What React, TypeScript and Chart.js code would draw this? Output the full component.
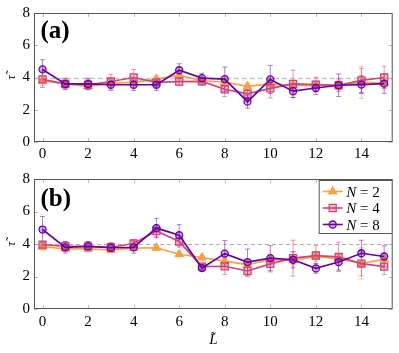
import React, { useEffect, useRef } from "react";
import { Chart, registerables } from "chart.js";

Chart.register(...registerables);

// ---------- data ----------
const L_VALUES = [0, 1, 2, 3, 4, 5, 6, 7, 8, 9, 10, 11, 12, 13, 14, 15];
const X_TICKS = [0, 2, 4, 6, 8, 10, 12, 14];
const Y_TICKS = [0, 2, 4, 6, 8];
const REFERENCE_LEVEL = 4;
const SERIES_N = ["2", "4", "8"];

// panel (a)
const A_N2 = [3.8, 3.6, 3.45, 3.65, 3.7, 3.9, 4.15, 3.8, 3.72, 3.45, 3.6, 3.52, 3.5, 3.52, 3.7, 3.65];
const A_N2_ERR = [0.3, 0.2, 0.2, 0.2, 0.2, 0.2, 0.3, 0.2, 0.25, 0.2, 0.3, 0.3, 0.3, 0.3, 1.0, 0.3];
const A_N4 = [3.88, 3.6, 3.55, 3.75, 4.0, 3.7, 3.75, 3.76, 3.27, 2.99, 3.33, 3.6, 3.56, 3.52, 3.82, 4.0];
const A_N4_ERR = [0.5, 0.3, 0.3, 0.45, 0.5, 0.3, 0.25, 0.25, 0.45, 0.35, 0.6, 0.85, 0.45, 0.4, 0.75, 0.7];
const A_N8 = [4.5, 3.6, 3.6, 3.55, 3.55, 3.55, 4.45, 3.96, 3.9, 2.5, 3.88, 3.15, 3.35, 3.52, 3.56, 3.62];
const A_N8_ERR = [0.6, 0.35, 0.35, 0.35, 0.35, 0.35, 0.4, 0.3, 0.75, 0.4, 0.87, 0.4, 0.4, 0.7, 0.55, 0.6];

// panel (b)
const B_N2 = [3.83, 3.7, 3.7, 3.63, 3.75, 3.77, 3.37, 3.17, 2.95, 2.73, 3.03, 2.99, 3.23, 3.09, 2.8, 3.05];
const B_N2_ERR = [0.2, 0.15, 0.15, 0.15, 0.15, 0.15, 0.15, 0.15, 0.2, 0.2, 0.3, 0.25, 0.3, 0.25, 0.96, 0.25];
const B_N4 = [3.96, 3.86, 3.85, 3.8, 4.03, 4.8, 4.15, 2.61, 2.63, 2.34, 2.78, 3.13, 3.29, 3.21, 2.79, 2.61];
const B_N4_ERR = [0.2, 0.3, 0.3, 0.25, 0.25, 0.35, 0.35, 0.2, 0.5, 0.35, 0.5, 1.1, 0.6, 0.9, 0.75, 0.5];
const B_N8 = [4.89, 3.79, 3.85, 3.77, 3.79, 4.98, 4.54, 2.52, 3.41, 2.89, 3.13, 3.03, 2.5, 2.89, 3.43, 3.23];
const B_N8_ERR = [0.8, 0.35, 0.3, 0.3, 0.35, 0.6, 0.65, 0.2, 0.8, 0.8, 0.77, 0.5, 0.3, 0.5, 0.8, 0.65];

// ---------- styles ----------
const FAMILY = '"Liberation Serif"';
const COLORS = ["#f9a03f", "#cc4778", "#6a00a8"];
const FILLS = ["#f9a03f", "rgba(204,71,120,0.35)", "rgba(106,0,168,0.3)"];
const ERR_COLORS = ["rgba(249,160,63,0.6)", "rgba(204,71,120,0.55)", "rgba(106,0,168,0.5)"];
const STYLES = ["triangle", "rect", "circle"];
const RADII = [4.5, 5, 3.5];

function drawMarker(ctx: CanvasRenderingContext2D, k: number, x: number, y: number) {
  ctx.save();
  ctx.fillStyle = FILLS[k];
  ctx.strokeStyle = COLORS[k];
  ctx.lineWidth = 1.3;
  ctx.beginPath();
  const r = RADII[k];
  if (STYLES[k] === "triangle") {
    ctx.moveTo(x, y - r);
    ctx.lineTo(x + r * 0.866, y + r * 0.5);
    ctx.lineTo(x - r * 0.866, y + r * 0.5);
    ctx.closePath();
  } else if (STYLES[k] === "rect") {
    const s = r * Math.SQRT1_2;
    ctx.rect(x - s, y - s, 2 * s, 2 * s);
  } else {
    ctx.arc(x, y, r, 0, Math.PI * 2);
  }
  ctx.fill();
  ctx.stroke();
  ctx.restore();
}

type PanelProps = {
  top: number;
  height: number;
  tag: string;
  tagDy: number;
  series: number[][];
  errors: number[][];
  padTop: number;
  xHeight: number;
  xPad: number;
  showLegend: boolean;
  showXTitle: boolean;
  dash: { color: string; width: number; pattern: number[] };
};

function Panel(props: PanelProps) {
  const ref = useRef<HTMLCanvasElement>(null);
  useEffect(() => {
    const canvas = ref.current!;
    const p = props;
    const decor = {
      id: "decor",
      beforeDatasetsDraw(c: any) {
        const { ctx, chartArea: a, scales } = c;
        const xs = scales.x;
        const ys = scales.y;
        ctx.save();
        const yr = Math.round(ys.getPixelForValue(REFERENCE_LEVEL)) + 0.5;
        ctx.strokeStyle = p.dash.color;
        ctx.lineWidth = p.dash.width;
        ctx.setLineDash(p.dash.pattern);
        ctx.beginPath();
        ctx.moveTo(a.left, yr);
        ctx.lineTo(a.right, yr);
        ctx.stroke();
        ctx.setLineDash([]);
        ctx.strokeStyle = "#aaa";
        ctx.lineWidth = 0.8;
        ctx.beginPath();
        X_TICKS.forEach((v) => {
          const x = Math.round(xs.getPixelForValue(v)) + 0.5;
          ctx.moveTo(x, a.top);
          ctx.lineTo(x, a.top + 4);
          ctx.moveTo(x, a.bottom);
          ctx.lineTo(x, a.bottom - 4);
        });
        Y_TICKS.forEach((v) => {
          const y = Math.round(ys.getPixelForValue(v)) + 0.5;
          ctx.moveTo(a.left, y);
          ctx.lineTo(a.left + 4, y);
          ctx.moveTo(a.right, y);
          ctx.lineTo(a.right - 4, y);
        });
        ctx.stroke();
        ctx.lineWidth = 1;
        p.series.forEach((vals, k) => {
          ctx.strokeStyle = ERR_COLORS[k];
          ctx.beginPath();
          vals.forEach((v, i) => {
            const e = p.errors[k][i];
            const x = xs.getPixelForValue(L_VALUES[i]);
            const y1 = ys.getPixelForValue(v + e);
            const y2 = ys.getPixelForValue(v - e);
            ctx.moveTo(x, y1);
            ctx.lineTo(x, y2);
            ctx.moveTo(x - 2.5, y1);
            ctx.lineTo(x + 2.5, y1);
            ctx.moveTo(x - 2.5, y2);
            ctx.lineTo(x + 2.5, y2);
          });
          ctx.stroke();
        });
        ctx.restore();
      },
      afterDatasetsDraw(c: any) {
        const { ctx, chartArea: a } = c;
        ctx.save();
        ctx.strokeStyle = "#555";
        ctx.lineWidth = 1;
        ctx.strokeRect(a.left + 0.5, a.top + 0.5, a.right - a.left - 1, a.bottom - a.top - 1);
        ctx.fillStyle = "#000";
        ctx.font = `bold 25px ${FAMILY}`;
        ctx.textBaseline = "alphabetic";
        ctx.textAlign = "left";
        ctx.fillText(p.tag, a.left + 6.5, a.top + p.tagDy);
        if (p.showLegend) {
          const lw = 74;
          const lh = 54;
          const lx = a.right - lw;
          const ly = a.top + 1;
          ctx.fillStyle = "#fff";
          ctx.fillRect(lx, ly, lw, lh);
          ctx.strokeStyle = "#555";
          ctx.lineWidth = 1;
          ctx.strokeRect(lx + 0.5, ly + 0.5, lw - 1, lh - 1);
          SERIES_N.forEach((n, k) => {
            const cy = ly + 11.5 + k * 16.5;
            ctx.strokeStyle = COLORS[k];
            ctx.lineWidth = 1.6;
            ctx.beginPath();
            ctx.moveTo(lx + 4, cy);
            ctx.lineTo(lx + 24, cy);
            ctx.stroke();
            drawMarker(ctx, k, lx + 14, cy);
            ctx.fillStyle = "#000";
            ctx.font = `italic 15px ${FAMILY}`;
            ctx.fillText("N", lx + 27.5, cy + 5);
            const w = ctx.measureText("N").width;
            ctx.font = `15px ${FAMILY}`;
            ctx.fillText(" = " + n, lx + 27.5 + w, cy + 5);
          });
        }
        ctx.restore();
      },
    };

    const chart = new Chart(canvas, {
      type: "line",
      data: {
        datasets: p.series.map((vals, k) => ({
          label: "N = " + SERIES_N[k],
          data: vals.map((v, i) => ({ x: L_VALUES[i], y: v })),
          borderColor: COLORS[k],
          backgroundColor: FILLS[k],
          pointBackgroundColor: FILLS[k],
          pointBorderColor: COLORS[k],
          pointStyle: STYLES[k] as any,
          pointRadius: RADII[k],
          pointBorderWidth: 1.3,
          borderWidth: 1.7,
          tension: 0,
          fill: false,
          order: 2 - k,
        })),
      },
      options: {
        responsive: false,
        animation: false,
        devicePixelRatio: 1,
        layout: { padding: { top: p.padTop, right: 1, left: 0, bottom: 0 } },
        plugins: { legend: { display: false }, tooltip: { enabled: false } },
        scales: {
          x: {
            type: "linear",
            min: -0.375,
            max: 15.375,
            grid: { display: false, drawTicks: false },
            border: { display: false },
            afterBuildTicks: (s: any) => {
              s.ticks = X_TICKS.map((v) => ({ value: v }));
            },
            afterFit: (s: any) => {
              s.height = p.xHeight;
            },
            ticks: {
              autoSkip: false,
              maxRotation: 0,
              padding: p.xPad,
              color: "#000",
              font: { family: FAMILY, size: 15 },
              callback: (v: any) => String(v),
            },
            title: {
              display: p.showXTitle,
              text: "L\u0303",
              color: "#000",
              font: { family: FAMILY, size: 15, style: "italic" },
              padding: { top: 0, bottom: 4 },
            },
          },
          y: {
            min: 0,
            max: 8,
            grid: { display: false, drawTicks: false },
            border: { display: false },
            afterBuildTicks: (s: any) => {
              s.ticks = Y_TICKS.map((v) => ({ value: v }));
            },
            afterFit: (s: any) => {
              s.width = 34;
            },
            ticks: {
              padding: 4,
              color: "#000",
              font: { family: FAMILY, size: 15 },
              callback: (v: any) => String(v),
            },
            title: {
              display: true,
              text: "\u03C4\u0303",
              color: "#000",
              font: { family: FAMILY, size: 13, style: "italic" },
              padding: { top: 4, bottom: 0 },
            },
          },
        },
      },
      plugins: [decor],
    } as any);

    // redraw once fonts have settled, in case the first paint used a fallback face
    let alive = true;
    const redraw = () => {
      if (alive) chart.update("none");
    };
    const raf = requestAnimationFrame(() => requestAnimationFrame(redraw));
    const t1 = setTimeout(redraw, 120);
    const t2 = setTimeout(redraw, 400);
    const fonts: any = (document as any).fonts;
    if (fonts && fonts.ready) fonts.ready.then(redraw);
    return () => {
      alive = false;
      cancelAnimationFrame(raf);
      clearTimeout(t1);
      clearTimeout(t2);
      chart.destroy();
    };
  }, []);
  return (
    <div style={{ position: "absolute", left: 0, top: props.top, width: 399, height: props.height }}>
      <canvas ref={ref} width={399} height={props.height} style={{ display: "block" }} />
    </div>
  );
}

export default function App() {
  return (
    <div style={{ position: "absolute", left: 0, top: 0, width: 399, height: 353, background: "#fff" }}>
      <Panel
        top={0}
        height={166}
        tag="(a)"
        tagDy={24.5}
        series={[A_N2, A_N4, A_N8]}
        errors={[A_N2_ERR, A_N4_ERR, A_N8_ERR]}
        padTop={10}
        xHeight={24}
        xPad={3}
        showLegend={false}
        showXTitle={false}
        dash={{ color: "#c8c8c8", width: 1.5, pattern: [5, 3] }}
      />
      <Panel
        top={166}
        height={187}
        tag="(b)"
        tagDy={26.5}
        series={[B_N2, B_N4, B_N8]}
        errors={[B_N2_ERR, B_N4_ERR, B_N8_ERR]}
        padTop={11}
        xHeight={44}
        xPad={4}
        showLegend={true}
        showXTitle={true}
        dash={{ color: "#999", width: 0.8, pattern: [4, 3] }}
      />
    </div>
  );
}
